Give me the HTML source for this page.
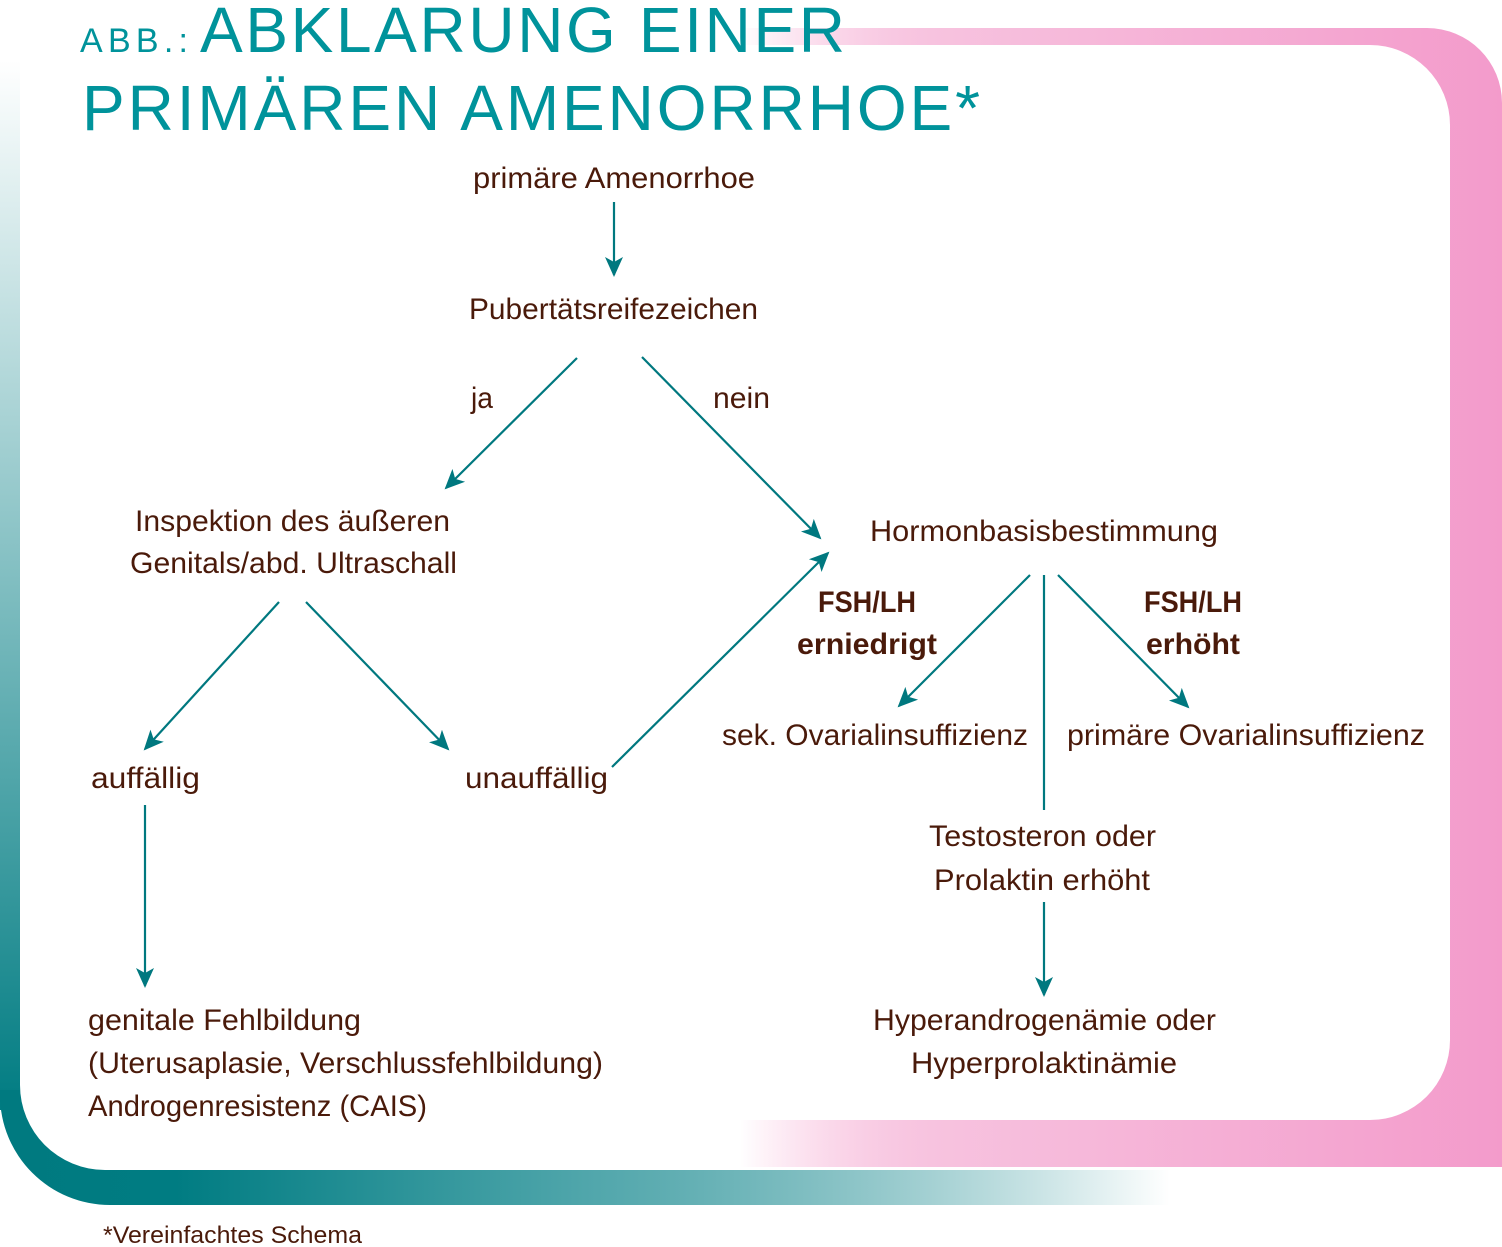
<!DOCTYPE html>
<html><head><meta charset="utf-8"><style>
html,body{margin:0;padding:0;background:#fff;}
svg{display:block;}
text{font-family:"Liberation Sans",sans-serif;fill:#4a1a0a;}
.t{font-size:30px;}
.b{font-size:30px;font-weight:bold;}
.h{fill:#00939b;}
</style></head><body>
<svg width="1502" height="1247" viewBox="0 0 1502 1247" xmlns="http://www.w3.org/2000/svg">
<defs>
<linearGradient id="pk" gradientUnits="userSpaceOnUse" x1="740" y1="0" x2="1502" y2="0">
<stop offset="0" stop-color="#f49ac9" stop-opacity="0"/>
<stop offset="0.25" stop-color="#f7c3df" stop-opacity="1"/>
<stop offset="1" stop-color="#f39bcb"/>
</linearGradient>
<linearGradient id="tb" gradientUnits="userSpaceOnUse" x1="0" y1="0" x2="1170" y2="0">
<stop offset="0" stop-color="#007a80"/>
<stop offset="0.15" stop-color="#007c82"/>
<stop offset="0.5" stop-color="#50a6ab"/>
<stop offset="1" stop-color="#007c82" stop-opacity="0"/>
</linearGradient>
<linearGradient id="tl" gradientUnits="userSpaceOnUse" x1="0" y1="60" x2="0" y2="1110">
<stop offset="0" stop-color="#007c82" stop-opacity="0"/>
<stop offset="0.15" stop-color="#007c82" stop-opacity="0.15"/>
<stop offset="1" stop-color="#007c82" stop-opacity="1"/>
</linearGradient>
<marker id="a" viewBox="0 0 20 20" refX="18" refY="10" markerWidth="20" markerHeight="20" markerUnits="userSpaceOnUse" orient="auto">
<path d="M0,1 L20,10 L0,19 L5,10 Z" fill="#00787f"/>
</marker>
</defs>
<path fill-rule="evenodd" fill="url(#pk)" d="M0,28 H1427 A75,75 0 0 1 1502,103 V1167 H0 Z M0,45 V1120 H1370 A80,80 0 0 0 1450,1040 V125 A80,80 0 0 0 1370,45 Z"/>
<path fill="url(#tl)" d="M0,60 H20 V1110 H0 Z"/>
<path fill="url(#tb)" d="M0,1090 H20 V1085 A85,85 0 0 0 105,1170 H1170 V1205 H110 A110,110 0 0 1 0,1095 Z"/>
<text class="h" x="80" y="52" font-size="34" textLength="108" lengthAdjust="spacing">ABB.:</text>
<text class="h" x="200" y="52" font-size="64" textLength="645" lengthAdjust="spacing">ABKLARUNG EINER</text>
<text class="h" x="82" y="130" font-size="64" textLength="898" lengthAdjust="spacing">PRIMÄREN AMENORRHOE*</text>
<g stroke="#00787f" stroke-width="2.2" fill="none" marker-end="url(#a)">
<line x1="614" y1="202" x2="614" y2="275"/>
<line x1="577" y1="358" x2="446" y2="488"/>
<line x1="642" y1="357" x2="820" y2="538"/>
<line x1="279" y1="602" x2="145" y2="749"/>
<line x1="306" y1="602" x2="448" y2="749"/>
<line x1="612" y1="767" x2="828" y2="553"/>
<line x1="145" y1="805" x2="145" y2="986"/>
<line x1="1030" y1="575" x2="899" y2="706"/>
<line x1="1058" y1="575" x2="1188" y2="707"/>
<line x1="1044" y1="902" x2="1044" y2="995"/>
</g>
<line x1="1044" y1="575" x2="1044" y2="810" stroke="#00787f" stroke-width="2.2"/>
<g>
<text class="t" x="473" y="188" textLength="282" lengthAdjust="spacingAndGlyphs">primäre Amenorrhoe</text>
<text class="t" x="469" y="319" textLength="289" lengthAdjust="spacingAndGlyphs">Pubertätsreifezeichen</text>
<text class="t" x="471" y="408" textLength="22" lengthAdjust="spacingAndGlyphs">ja</text>
<text class="t" x="713" y="408" textLength="57" lengthAdjust="spacingAndGlyphs">nein</text>
<text class="t" x="135" y="531" textLength="315" lengthAdjust="spacingAndGlyphs">Inspektion des äußeren</text>
<text class="t" x="130" y="573" textLength="327" lengthAdjust="spacingAndGlyphs">Genitals/abd. Ultraschall</text>
<text class="t" x="870" y="541" textLength="348" lengthAdjust="spacingAndGlyphs">Hormonbasisbestimmung</text>
<text class="b" x="818" y="612" textLength="98" lengthAdjust="spacingAndGlyphs">FSH/LH</text>
<text class="b" x="797" y="654" textLength="140" lengthAdjust="spacingAndGlyphs">erniedrigt</text>
<text class="b" x="1144" y="612" textLength="98" lengthAdjust="spacingAndGlyphs">FSH/LH</text>
<text class="b" x="1146" y="654" textLength="94" lengthAdjust="spacingAndGlyphs">erhöht</text>
<text class="t" x="722" y="745" textLength="306" lengthAdjust="spacingAndGlyphs">sek. Ovarialinsuffizienz</text>
<text class="t" x="1067" y="745" textLength="358" lengthAdjust="spacingAndGlyphs">primäre Ovarialinsuffizienz</text>
<text class="t" x="91" y="788" textLength="109" lengthAdjust="spacingAndGlyphs">auffällig</text>
<text class="t" x="465" y="788" textLength="143" lengthAdjust="spacingAndGlyphs">unauffällig</text>
<text class="t" x="929" y="846" textLength="227" lengthAdjust="spacingAndGlyphs">Testosteron oder</text>
<text class="t" x="934" y="890" textLength="216" lengthAdjust="spacingAndGlyphs">Prolaktin erhöht</text>
<text class="t" x="88" y="1030" textLength="273" lengthAdjust="spacingAndGlyphs">genitale Fehlbildung</text>
<text class="t" x="88" y="1073" textLength="515" lengthAdjust="spacingAndGlyphs">(Uterusaplasie, Verschlussfehlbildung)</text>
<text class="t" x="88" y="1116" textLength="339" lengthAdjust="spacingAndGlyphs">Androgenresistenz (CAIS)</text>
<text class="t" x="873" y="1030" textLength="343" lengthAdjust="spacingAndGlyphs">Hyperandrogenämie oder</text>
<text class="t" x="911" y="1073" textLength="266" lengthAdjust="spacingAndGlyphs">Hyperprolaktinämie</text>
<text x="103" y="1243" font-size="24" textLength="259" lengthAdjust="spacingAndGlyphs">*Vereinfachtes Schema</text>
</g>
</svg>
</body></html>
